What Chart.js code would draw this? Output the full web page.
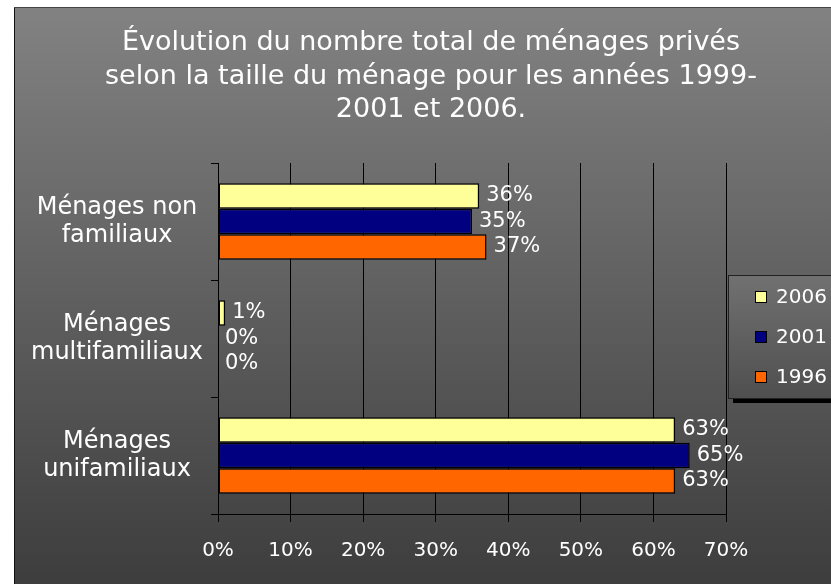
<!DOCTYPE html>
<html>
<head>
<meta charset="utf-8">
<script src="https://cdn.jsdelivr.net/npm/chart.js@4.4.1/dist/chart.umd.min.js"></script>
<style>
  html, body { margin: 0; padding: 0; background: #fff; }
  #wrap { width: 831px; height: 584px; }
</style>
</head>
<body>
<div id="wrap"><canvas id="chart" width="831" height="584"></canvas></div>
<script>
const titleLines = [
    'Évolution du nombre total de ménages privés',
    'selon la taille du ménage pour les années 1999-',
    '2001 et 2006.'
];
const categories = [
    ['Ménages non', 'familiaux'],
    ['Ménages', 'multifamiliaux'],
    ['Ménages', 'unifamiliaux']
];
const years = ['2006', '2001', '1996'];
const values2006 = [36, 1, 63];
const values2001 = [35, 0, 65];
const values1996 = [37, 0, 63];
const barColors = ['#ffff99', '#000080', '#ff6600'];
const xMax = 70;
const xStep = 10;

const FONT = '"DejaVu Sans", sans-serif';

// grey gradient frame behind everything
const backgroundPlugin = {
    id: 'bg',
    beforeDraw(chart) {
        const c = chart.ctx;
        c.save();
        c.fillStyle = '#fff';
        c.fillRect(0, 0, chart.width, chart.height);
        const g = c.createLinearGradient(0, 8, 0, chart.height);
        g.addColorStop(0, '#828282');
        g.addColorStop(1, '#3d3d3d');
        c.fillStyle = g;
        c.fillRect(15, 8, chart.width - 15, chart.height - 8);
        c.fillStyle = '#111';
        c.fillRect(14, 7, 1, chart.height - 7);
        c.fillStyle = '#444';
        c.fillRect(14, 7, chart.width - 14, 1);
        c.restore();
    }
};

// title centred on the whole frame (not on the plot)
const frameTitle = {
    id: 'frameTitle',
    afterDraw(chart) {
        const c = chart.ctx;
        c.save();
        c.fillStyle = '#fff';
        c.font = '27px ' + FONT;
        c.textAlign = 'center';
        c.textBaseline = 'middle';
        titleLines.forEach((t, i) => c.fillText(t, 431, 43 + i * 33.5));
        c.restore();
    }
};

// value labels at the end of each bar
const valueLabels = {
    id: 'valueLabels',
    afterDatasetsDraw(chart) {
        const c = chart.ctx;
        c.save();
        c.fillStyle = '#fff';
        c.font = '21px ' + FONT;
        c.textAlign = 'left';
        c.textBaseline = 'middle';
        chart.data.datasets.forEach((ds, i) => {
            chart.getDatasetMeta(i).data.forEach((bar, j) => {
                c.fillText(ds.data[j] + '%', bar.x + 7, bar.y);
            });
        });
        c.restore();
    }
};

// boxed legend like the excel one
const boxLegend = {
    id: 'boxLegend',
    afterDraw(chart) {
        const c = chart.ctx;
        const x = chart.chartArea.right + 2;
        const y = 275;
        const w = chart.width - x + 5;
        const h = 123;
        c.save();
        c.fillStyle = '#000';
        c.fillRect(x + 5, y + 5, w, h);
        const g = c.createLinearGradient(0, y, 0, y + h);
        g.addColorStop(0, '#717171');
        g.addColorStop(1, '#4f4f4f');
        c.fillStyle = g;
        c.fillRect(x, y, w, h);
        c.strokeStyle = '#222';
        c.lineWidth = 1;
        c.strokeRect(x + 0.5, y + 0.5, w, h);
        c.font = '20px ' + FONT;
        c.textBaseline = 'middle';
        chart.data.datasets.forEach((ds, i) => {
            const cy = y + 22 + i * 40;
            c.fillStyle = ds.backgroundColor;
            c.fillRect(x + 27, cy - 6, 12, 12);
            c.strokeStyle = '#000';
            c.strokeRect(x + 27.5, cy - 5.5, 11, 11);
            c.fillStyle = '#fff';
            c.fillText(ds.label, x + 48, cy + 1);
        });
        c.restore();
    }
};

const data = {
    labels: categories,
    datasets: [
        { label: years[0], data: values2006, backgroundColor: barColors[0] },
        { label: years[1], data: values2001, backgroundColor: barColors[1] },
        { label: years[2], data: values1996, backgroundColor: barColors[2] }
    ].map(d => Object.assign(d, {
        borderColor: '#000',
        borderWidth: 1.5,
        borderSkipped: false,
        categoryPercentage: 0.655,
        barPercentage: 1.0
    }))
};

const options = {
    indexAxis: 'y',
    responsive: false,
    animation: false,
    layout: { padding: { left: 15, right: 105, top: 163, bottom: 0 } },
    plugins: {
        legend: { display: false },
        tooltip: { enabled: false },
        title: { display: false }
    },
    scales: {
        x: {
            min: 0,
            max: xMax,
            ticks: {
                stepSize: xStep,
                color: '#fff',
                padding: 17,
                font: { family: FONT, size: 20 },
                callback: v => v + '%'
            },
            grid: { color: '#000', lineWidth: 1, tickLength: 8 },
            border: { color: '#000' },
            afterFit(s) { s.height = 70; }
        },
        y: {
            ticks: {
                color: '#fff',
                crossAlign: 'center',
                padding: 8,
                font: { family: FONT, size: 24, lineHeight: 1.17 }
            },
            grid: { drawOnChartArea: false, color: '#000', tickLength: 7, offset: true },
            border: { color: '#000' },
            afterFit(s) { s.width = 203; }
        }
    }
};

const config = {
    type: 'bar',
    data: data,
    options: options,
    plugins: [backgroundPlugin, frameTitle, valueLabels, boxLegend]
};

const menagesChart = new Chart(document.getElementById('chart'), config);
</script>
</body>
</html>
